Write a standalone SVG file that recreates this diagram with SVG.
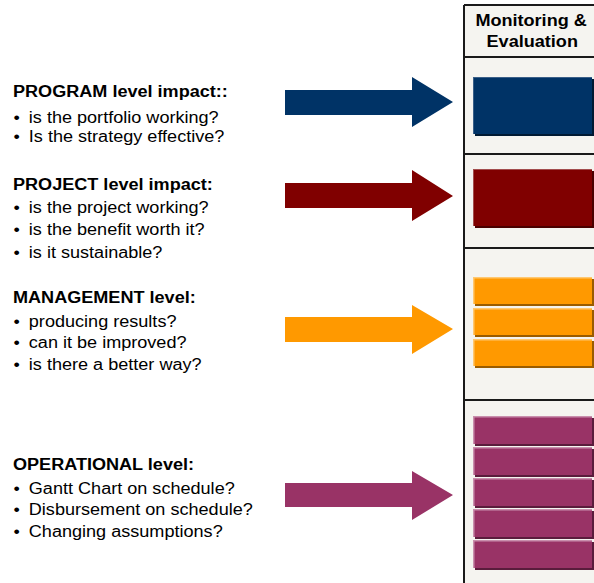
<svg xmlns="http://www.w3.org/2000/svg" width="594" height="583" viewBox="0 0 594 583">
<style>
.t{font-family:"Liberation Sans",Arial,Helvetica,sans-serif;font-size:16px;fill:#000}
.h{font-weight:bold}
.hd{font-family:"Liberation Sans",Arial,Helvetica,sans-serif;font-size:16px;font-weight:bold;fill:#000;text-anchor:middle}
.ln{stroke:#1a1a1a;stroke-width:2;fill:none}
.blue{fill:#003366}.red{fill:#800000}.orange{fill:#FF9900}.purple{fill:#993366}
.sblue{fill:#001a33}.sred{fill:#4a0000}.sorange{fill:#9a5c00}.spurple{fill:#5a1c3c}
.hblue{fill:#3a5f88}.hred{fill:#a34d4d}.horange{fill:#ffc870}.hpurple{fill:#c98fad}
</style>
<rect width="594" height="583" fill="#ffffff"/>
<g id="column">
<rect x="464" y="5" width="140" height="590" fill="#F5F4F0"/>
<path class="ln" d="M464,5 V583 M464,5 H594 M464,57 H594 M464,154 H594 M464,248 H594 M464,400 H594"/>
<g transform="scale(1.13 1)"><text class="hd" x="470" y="26">Monitoring &amp;</text><text class="hd" x="471" y="47">Evaluation</text></g>
</g>
<g id="program">
<g transform="scale(1.13 1)">
<text class="t h" x="11.5" y="97.5">PROGRAM level impact::</text>
<text class="t" x="12" y="123">•</text><text class="t" x="25.5" y="123">is the portfolio working?</text>
<text class="t" x="12" y="142.5">•</text><text class="t" x="25.5" y="142.5">Is the strategy effective?</text>
</g>
<rect class="sblue" x="475" y="79" width="119" height="57"/>
<rect class="blue" x="473" y="77" width="119" height="57"/>
<rect class="hblue" x="473" y="77" width="119" height="1"/>
<rect class="hblue" x="473" y="77" width="1" height="57"/>
</g>
<g id="project">
<g transform="scale(1.13 1)">
<text class="t h" x="11.5" y="190.5">PROJECT level impact:</text>
<text class="t" x="12" y="213">•</text><text class="t" x="25.5" y="213">is the project working?</text>
<text class="t" x="12" y="235.5">•</text><text class="t" x="25.5" y="235.5">is the benefit worth it?</text>
<text class="t" x="12" y="258">•</text><text class="t" x="25.5" y="258">is it sustainable?</text>
</g>
<rect class="sred" x="475" y="171" width="119" height="57"/>
<rect class="red" x="473" y="169" width="119" height="57"/>
<rect class="hred" x="473" y="169" width="119" height="1"/>
<rect class="hred" x="473" y="169" width="1" height="57"/>
</g>
<g id="management">
<g transform="scale(1.13 1)">
<text class="t h" x="11.5" y="303.5">MANAGEMENT level:</text>
<text class="t" x="12" y="327.5">•</text><text class="t" x="25.5" y="327.5">producing results?</text>
<text class="t" x="12" y="348.5">•</text><text class="t" x="25.5" y="348.5">can it be improved?</text>
<text class="t" x="12" y="370.5">•</text><text class="t" x="25.5" y="370.5">is there a better way?</text>
</g>
<rect class="sorange" x="475" y="279" width="119" height="27"/>
<rect class="orange" x="473" y="277" width="119" height="27"/>
<rect class="horange" x="473" y="277" width="119" height="1.5"/>
<rect class="horange" x="473" y="277" width="1.5" height="27"/>
<rect class="sorange" x="475" y="310" width="119" height="27"/>
<rect class="orange" x="473" y="308" width="119" height="27"/>
<rect class="horange" x="473" y="308" width="119" height="1.5"/>
<rect class="horange" x="473" y="308" width="1.5" height="27"/>
<rect class="sorange" x="475" y="341" width="119" height="27"/>
<rect class="orange" x="473" y="339" width="119" height="27"/>
<rect class="horange" x="473" y="339" width="119" height="1.5"/>
<rect class="horange" x="473" y="339" width="1.5" height="27"/>
</g>
<g id="operational">
<g transform="scale(1.13 1)">
<text class="t h" x="11.5" y="470">OPERATIONAL level:</text>
<text class="t" x="12" y="494">•</text><text class="t" x="25.5" y="494">Gantt Chart on schedule?</text>
<text class="t" x="12" y="515">•</text><text class="t" x="25.5" y="515">Disbursement on schedule?</text>
<text class="t" x="12" y="537">•</text><text class="t" x="25.5" y="537">Changing assumptions?</text>
</g>
<rect class="spurple" x="475" y="418" width="119" height="28"/>
<rect class="purple" x="473" y="416" width="119" height="28"/>
<rect class="hpurple" x="473" y="416" width="119" height="1.5"/>
<rect class="hpurple" x="473" y="416" width="1.5" height="28"/>
<rect class="spurple" x="475" y="449" width="119" height="28"/>
<rect class="purple" x="473" y="447" width="119" height="28"/>
<rect class="hpurple" x="473" y="447" width="119" height="1.5"/>
<rect class="hpurple" x="473" y="447" width="1.5" height="28"/>
<rect class="spurple" x="475" y="480" width="119" height="28"/>
<rect class="purple" x="473" y="478" width="119" height="28"/>
<rect class="hpurple" x="473" y="478" width="119" height="1.5"/>
<rect class="hpurple" x="473" y="478" width="1.5" height="28"/>
<rect class="spurple" x="475" y="511" width="119" height="28"/>
<rect class="purple" x="473" y="509" width="119" height="28"/>
<rect class="hpurple" x="473" y="509" width="119" height="1.5"/>
<rect class="hpurple" x="473" y="509" width="1.5" height="28"/>
<rect class="spurple" x="475" y="542" width="119" height="28"/>
<rect class="purple" x="473" y="540" width="119" height="28"/>
<rect class="hpurple" x="473" y="540" width="119" height="1.5"/>
<rect class="hpurple" x="473" y="540" width="1.5" height="28"/>
</g>
<g id="connectors">
<polygon class="blue" points="285,90 412,90 412,77 453,102 412,127 412,115 285,115"/>
<polygon class="red" points="285,183 412,183 412,170 453,196 412,221 412,208 285,208"/>
<polygon class="orange" points="285,317 412,317 412,305 453,329 412,354 412,342 285,342"/>
<polygon class="purple" points="285,483 412,483 412,471 453,495 412,520 412,507 285,507"/>
</g>
</svg>
